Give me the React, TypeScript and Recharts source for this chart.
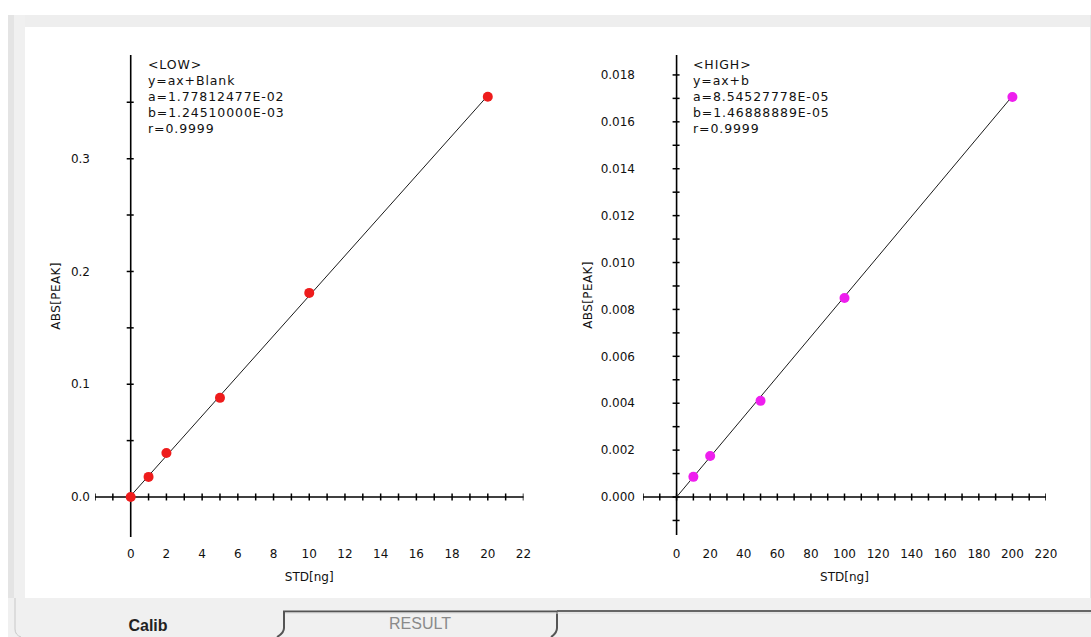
import { ScatterChart, Scatter, XAxis, YAxis, ReferenceLine, Label } from 'recharts';

const FONT = '"DejaVu Sans", sans-serif';

// LOW calibration
const lowStd = [0, 1, 2, 5, 10, 20];
const lowAbs = [0.0, 0.0178, 0.039, 0.0879, 0.181, 0.355];
const lowFitStd = [0, 20];
const lowFitAbs = [0.001, 0.356];
const lowXTicks = [0, 2, 4, 6, 8, 10, 12, 14, 16, 18, 20, 22];
const lowYTicks = [0, 0.1, 0.2, 0.3];
const lowXMinor = [-2, -1, 0, 1, 2, 3, 4, 5, 6, 7, 8, 9, 10, 11, 12, 13, 14, 15, 16, 17, 18, 19, 20, 21, 22];
const lowYMinor = [0, 0.05, 0.1, 0.15, 0.2, 0.25, 0.3, 0.35];
const lowInfo = ['<LOW>', 'y=ax+Blank', 'a=1.77812477E-02', 'b=1.24510000E-03', 'r=0.9999'];

// HIGH calibration
const highStd = [10, 20, 50, 100, 200];
const highAbs = [0.00086, 0.00175, 0.0041, 0.00849, 0.01706];
const highFitStd = [0, 200];
const highFitAbs = [0.0, 0.0171];
const highXTicks = [0, 20, 40, 60, 80, 100, 120, 140, 160, 180, 200, 220];
const highYTicks = [0, 0.002, 0.004, 0.006, 0.008, 0.01, 0.012, 0.014, 0.016, 0.018];
const highXMinor = [-20, -10, 0, 10, 20, 30, 40, 50, 60, 70, 80, 90, 100, 110, 120, 130, 140, 150, 160, 170, 180, 190, 200, 210, 220];
const highYMinor = [-0.001, 0, 0.001, 0.002, 0.003, 0.004, 0.005, 0.006, 0.007, 0.008, 0.009, 0.01, 0.011, 0.012, 0.013, 0.014, 0.015, 0.016, 0.017, 0.018];
const highInfo = ['<HIGH>', 'y=ax+b', 'a=8.54527778E-05', 'b=1.46888889E-05', 'r=0.9999'];

const XMark = (p: any) => (
    <line x1={p.cx} x2={p.cx} y1={p.cy - 3.5} y2={p.cy + 3.5} stroke="#000" strokeWidth={1.5} />
);
const YMark = (p: any) => (
    <line x1={p.cx - 4} x2={p.cx + 3} y1={p.cy} y2={p.cy} stroke="#000" strokeWidth={1.5} />
);
const NoMark = () => <g />;
const makeDot = (color: string) => (p: any) => <circle cx={p.cx} cy={p.cy} r={5} fill={color} />;

const tickStyle = { fill: '#111', fontSize: 12, fontFamily: FONT };

function CalibPlot(props: any) {
    const {
        left, width, plotLeft, plotRight, plotBottom, xDomain, yDomain, xTicks, yTicks,
        xMinor, yMinor, std, abs, fitStd, fitAbs, color, digits, info, yTitleX, yGap, xGap, textLeft,
    } = props;
    const H = 600;
    const pts = std.map((x: number, i: number) => ({ x, y: abs[i] }));
    const fit = fitStd.map((x: number, i: number) => ({ x, y: fitAbs[i] }));
    const xm = xMinor.map((x: number) => ({ x, y: 0 }));
    const ym = yMinor.map((y: number) => ({ x: 0, y }));

    return (
        <div style={{ position: 'absolute', left, top: 0, width, height: H }}>
            <ScatterChart
                width={width}
                height={H}
                margin={{ top: 55, right: width - plotRight, bottom: H - plotBottom - 40, left: 0 }}
            >
                <XAxis
                    type="number"
                    dataKey="x"
                    domain={xDomain}
                    ticks={xTicks}
                    interval={0}
                    allowDataOverflow
                    axisLine={false}
                    tickLine={false}
                    height={40}
                    tickSize={6}
                    tickMargin={xGap}
                    tick={tickStyle}
                >
                    <Label
                        content={(lp: any) => {
                            const vb = lp.viewBox;
                            return (
                                <text
                                    x={vb.x + vb.width / 2}
                                    y={577}
                                    textAnchor="middle"
                                    dominantBaseline="central"
                                    fontSize={12}
                                    fontFamily={FONT}
                                    fill="#111"
                                >
                                    STD[ng]
                                </text>
                            );
                        }}
                    />
                </XAxis>
                <YAxis
                    type="number"
                    dataKey="y"
                    domain={yDomain}
                    ticks={yTicks}
                    interval={0}
                    allowDataOverflow
                    axisLine={false}
                    tickLine={false}
                    width={plotLeft}
                    tickSize={yGap}
                    tickMargin={0}
                    tick={tickStyle}
                    tickFormatter={(v: number) => v.toFixed(digits)}
                >
                    <Label
                        content={(lp: any) => {
                            const vb = lp.viewBox;
                            const cy = vb.y + vb.height / 2;
                            return (
                                <text
                                    x={yTitleX}
                                    y={cy}
                                    transform={`rotate(-90 ${yTitleX} ${cy})`}
                                    textAnchor="middle"
                                    dominantBaseline="central"
                                    fontSize={12}
                                    fontFamily={FONT}
                                    letterSpacing={0.4}
                                    fill="#111"
                                >
                                    ABS[PEAK]
                                </text>
                            );
                        }}
                    />
                </YAxis>
                <ReferenceLine x={0} stroke="#000" strokeWidth={1.6} />
                <ReferenceLine y={0} stroke="#000" strokeWidth={1.6} />
                <Scatter data={xm} shape={XMark} isAnimationActive={false} />
                <Scatter data={ym} shape={YMark} isAnimationActive={false} />
                <Scatter
                    data={fit}
                    line={{ stroke: '#1a1a1a', strokeWidth: 1 }}
                    shape={NoMark}
                    isAnimationActive={false}
                />
                <Scatter data={pts} shape={makeDot(color)} isAnimationActive={false} />
            </ScatterChart>
            <div
                style={{
                    position: 'absolute',
                    left: textLeft,
                    top: 57,
                    fontFamily: FONT,
                    fontSize: 12.5,
                    lineHeight: '16px',
                    letterSpacing: 0.9,
                    color: '#111',
                    whiteSpace: 'pre',
                }}
            >
                {info.map((t: string) => (
                    <div key={t}>{t}</div>
                ))}
            </div>
        </div>
    );
}

export default function App() {
    return (
        <div
            style={{
                position: 'absolute',
                left: 0,
                top: 0,
                width: 1091,
                height: 637,
                background: '#fff',
                overflow: 'hidden',
            }}
        >
            <div style={{ position: 'absolute', left: 8, top: 15, width: 1083, height: 12, background: '#eeeeee' }} />
            <div style={{ position: 'absolute', left: 8, top: 15, width: 6, height: 622, background: '#e4e4e4' }} />
            <div style={{ position: 'absolute', left: 14, top: 15, width: 11, height: 622, background: '#f0f0f0' }} />
            <div style={{ position: 'absolute', left: 1090, top: 15, width: 1, height: 583, background: '#e6e6e6' }} />
            <div style={{ position: 'absolute', left: 8, top: 598, width: 1083, height: 39, background: '#f0f0f0' }} />

            <CalibPlot
                left={0}
                width={560}
                plotLeft={95}
                plotRight={523.5}
                plotBottom={537}
                xDomain={[-2, 22]}
                yDomain={[-0.0355, 0.392]}
                xTicks={lowXTicks}
                yTicks={lowYTicks}
                xMinor={lowXMinor}
                yMinor={lowYMinor}
                std={lowStd}
                abs={lowAbs}
                fitStd={lowFitStd}
                fitAbs={lowFitAbs}
                color="#ee1c1c"
                digits={1}
                info={lowInfo}
                yTitleX={56}
                yGap={5}
                xGap={6}
                textLeft={148}
            />
            <CalibPlot
                left={560}
                width={531}
                plotLeft={83}
                plotRight={486}
                plotBottom={535}
                xDomain={[-20, 220]}
                yDomain={[-0.00162, 0.01885]}
                xTicks={highXTicks}
                yTicks={highYTicks}
                xMinor={highXMinor}
                yMinor={highYMinor}
                std={highStd}
                abs={highAbs}
                fitStd={highFitStd}
                fitAbs={highFitAbs}
                color="#ee1eee"
                digits={3}
                info={highInfo}
                yTitleX={28}
                yGap={8}
                xGap={8}
                textLeft={133}
            />

            <svg
                width={1091}
                height={39}
                style={{ position: 'absolute', left: 0, top: 598 }}
            >
                <path d="M 15 0 L 15 31 Q 15 37 21 39" stroke="#c8c8c8" strokeWidth={1} fill="none" />
                <path
                    d="M 277 39 Q 284 35 284 30 L 284 13.5 L 557 13.5 L 557 30 Q 557 35 551 39"
                    stroke="#555"
                    strokeWidth={2}
                    fill="none"
                />
                <line x1={557} x2={1091} y1={13} y2={13} stroke="#666" strokeWidth={2} />
                <line x1={285} x2={1091} y1={15} y2={15} stroke="#d8d8d8" strokeWidth={1} />
                <text
                    x={148}
                    y={27}
                    textAnchor="middle"
                    dominantBaseline="central"
                    fontFamily='"Liberation Sans", Arial, sans-serif'
                    fontWeight="bold"
                    fontSize={16}
                    fill="#222"
                >
                    Calib
                </text>
                <text
                    x={420}
                    y={25}
                    textAnchor="middle"
                    dominantBaseline="central"
                    fontFamily='"Liberation Sans", Arial, sans-serif'
                    fontSize={16}
                    fill="#8a8a8a"
                >
                    RESULT
                </text>
            </svg>
        </div>
    );
}
